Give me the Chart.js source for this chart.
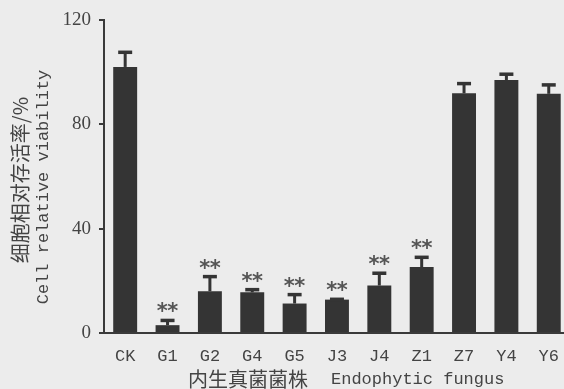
<!DOCTYPE html>
<html>
<head>
<meta charset="utf-8">
<script src="https://cdn.jsdelivr.net/npm/chart.js@4/dist/chart.umd.min.js"></script>
<style>
  html, body { margin: 0; padding: 0; overflow: hidden; background: #ececec; }
  canvas { display: block; }
</style>
</head>
<body>
<canvas id="grafico" width="572" height="389"></canvas>
<script>
// dados
const cepas = ['CK', 'G1', 'G2', 'G4', 'G5', 'J3', 'J4', 'Z1', 'Z7', 'Y4', 'Y6'];
const viabilidade = [102, 3, 16, 15.6, 11.3, 12.8, 18.2, 25.3, 91.9, 97, 91.7];
const erroSuperior = [108, 5.2, 22, 17, 15.1, 13.3, 23.3, 29.4, 96, 99.6, 95.5];
const significancia = ['', '**', '**', '**', '**', '**', '**', '**', '', '', ''];
const ticksY = [0, 40, 80, 120];

const corBarra = '#343434';
const corTexto = '#444444';

// barras de erro + asteriscos
const pluginErro = {
  id: 'erro',
  afterDatasetsDraw(chart) {
    const ctx = chart.ctx;
    const y = chart.scales.y;
    const meta = chart.getDatasetMeta(0);
    ctx.save();
    ctx.strokeStyle = corBarra;
    meta.data.forEach((bar, i) => {
      const topo = y.getPixelForValue(viabilidade[i]);
      const erro = y.getPixelForValue(erroSuperior[i]);
      ctx.lineWidth = 3;
      ctx.beginPath();
      ctx.moveTo(bar.x, topo);
      ctx.lineTo(bar.x, erro);
      ctx.stroke();
      ctx.lineWidth = 3.5;
      ctx.beginPath();
      ctx.moveTo(bar.x - 7, erro + 1);
      ctx.lineTo(bar.x + 7, erro + 1);
      ctx.stroke();
      if (significancia[i]) {
        ctx.fillStyle = '#555555';
        ctx.font = 'bold 21px "DejaVu Sans"';
        ctx.textAlign = 'center';
        ctx.textBaseline = 'alphabetic';
        const m = ctx.measureText('*');
        const centro = erro - 12;
        const base = centro + (m.actualBoundingBoxAscent - m.actualBoundingBoxDescent) / 2;
        // cada asterisco separado para controlar o espaçamento
        significancia[i].split('').forEach((s, k, arr) => {
          const dx = (k - (arr.length - 1) / 2) * 10.5;
          ctx.fillText(s, bar.x + dx, base);
        });
      }
    });
    ctx.restore();
  }
};

// títulos dos eixos
const pluginTitulos = {
  id: 'titulos',
  afterDraw(chart) {
    const ctx = chart.ctx;
    ctx.save();
    ctx.fillStyle = corTexto;
    ctx.textBaseline = 'middle';
    // eixo x
    ctx.textAlign = 'left';
    ctx.font = '20px "Noto Sans CJK SC"';
    ctx.fillText('内生真菌菌株', 188, 379);
    ctx.font = '17px "Liberation Mono"';
    ctx.fillText('Endophytic fungus', 331, 379);
    // eixo y
    ctx.translate(0, 180);
    ctx.rotate(-Math.PI / 2);
    ctx.textAlign = 'center';
    ctx.font = '20px "Noto Sans CJK SC"';
    ctx.fillText('细胞相对存活率/%', 0, 20);
    ctx.font = '17px "Liberation Mono"';
    ctx.fillText('Cell relative viability', -7, 43);
    ctx.restore();
  }
};

const grafico = new Chart(document.getElementById('grafico').getContext('2d'), {
  type: 'bar',
  data: {
    labels: cepas,
    datasets: [{
      data: viabilidade,
      backgroundColor: corBarra,
      barPercentage: 0.565,
      categoryPercentage: 1
    }]
  },
  options: {
    responsive: false,
    animation: false,
    layout: { padding: { top: 20, right: 1, left: 0, bottom: 0 } },
    plugins: {
      legend: { display: false },
      tooltip: { enabled: false }
    },
    scales: {
      x: {
        grid: { display: false, drawTicks: false },
        border: { display: true, color: '#3a3a3a', width: 2 },
        ticks: {
          color: corTexto,
          font: { family: 'Liberation Mono', size: 17 },
          padding: 13
        },
        afterFit(scale) { scale.height = 56; }
      },
      y: {
        min: 0,
        max: 120,
        afterBuildTicks(scale) { scale.ticks = ticksY.map(v => ({ value: v })); },
        grid: { drawOnChartArea: false, drawTicks: true, tickLength: 5, color: '#3a3a3a', lineWidth: 2 },
        border: { display: true, color: '#3a3a3a', width: 2 },
        ticks: {
          color: corTexto,
          font: { family: 'Liberation Serif', size: 19 },
          padding: 8
        },
        afterFit(scale) { scale.width = 104; }
      }
    }
  },
  plugins: [pluginErro, pluginTitulos]
});
</script>
</body>
</html>
